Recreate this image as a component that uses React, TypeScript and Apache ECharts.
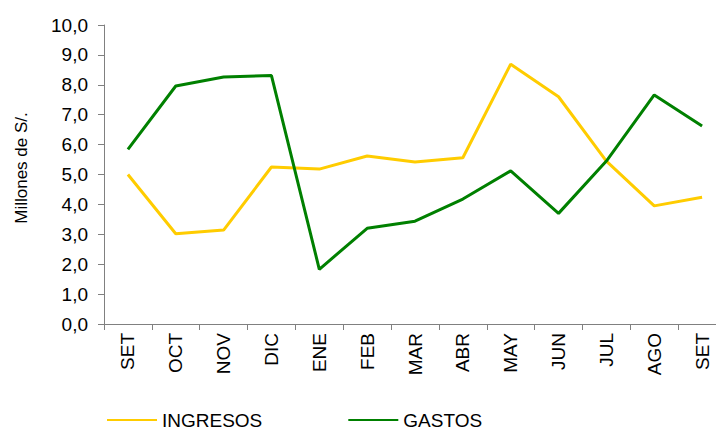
import React, { useEffect, useRef } from "react";
import * as echarts from "echarts";

const categories = ["SET", "OCT", "NOV", "DIC", "ENE", "FEB", "MAR", "ABR", "MAY", "JUN", "JUL", "AGO", "SET"];
const ingresos = [5.0, 3.02, 3.14, 5.25, 5.18, 5.62, 5.42, 5.56, 8.69, 7.6, 5.45, 3.95, 4.24];
const gastos = [5.84, 7.96, 8.26, 8.31, 1.83, 3.2, 3.44, 4.18, 5.12, 3.7, 5.45, 7.66, 6.62];
const yTicks = [0, 10, 1];
const yTitle = "Millones de S/.";
const FONT = "'Liberation Sans', Arial, sans-serif";

export default function App() {
  const ref = useRef<HTMLDivElement>(null);
  useEffect(() => {
    if (!ref.current) return;
    const chart = echarts.init(ref.current, null, { renderer: "svg" });
    chart.setOption({
      animation: false,
      backgroundColor: "#ffffff",
      textStyle: { fontFamily: FONT },
      grid: { left: 104, right: 14, top: 25, bottom: 107, containLabel: false },
      graphic: [
        {
          type: "text",
          x: 21,
          y: 168,
          rotation: Math.PI / 2,
          style: {
            text: yTitle,
            fill: "#000",
            font: `17px ${FONT}`,
            align: "center",
            verticalAlign: "middle",
          },
        },
      ],
      legend: {
        left: 102,
        top: 405,
        itemWidth: 50,
        itemHeight: 14,
        itemGap: 86,
        icon: "path://M0,6 L50,6 L50,8 L0,8 Z",
        textStyle: { fontFamily: FONT, fontSize: 19, color: "#000", lineHeight: 20 },
        data: [
          { name: "INGRESOS", itemStyle: { color: "#FFCC00" } },
          { name: "GASTOS", itemStyle: { color: "#008000" } },
        ],
      },
      xAxis: {
        type: "category",
        data: categories,
        boundaryGap: true,
        axisLine: { lineStyle: { color: "#808080", width: 1 } },
        axisTick: { show: true, length: 6, alignWithLabel: false, lineStyle: { color: "#808080" } },
        axisLabel: {
          rotate: 90,
          interval: 0,
          margin: 9,
          color: "#000",
          fontFamily: FONT,
          fontSize: 19,
        },
        splitLine: { show: false },
      },
      yAxis: {
        type: "value",
        min: yTicks[0],
        max: yTicks[1],
        interval: yTicks[2],
        axisLine: { show: true, lineStyle: { color: "#808080", width: 1 } },
        axisTick: { show: true, length: 6, lineStyle: { color: "#808080" } },
        axisLabel: {
          margin: 16,
          color: "#000",
          fontFamily: FONT,
          fontSize: 19,
          formatter: (v: number) => v.toFixed(1).replace(".", ","),
        },
        splitLine: { show: false },
      },
      series: [
        {
          name: "INGRESOS",
          type: "line",
          data: ingresos,
          symbol: "none",
          lineStyle: { color: "#FFCC00", width: 3 },
          itemStyle: { color: "#FFCC00" },
        },
        {
          name: "GASTOS",
          type: "line",
          data: gastos,
          symbol: "none",
          lineStyle: { color: "#008000", width: 3 },
          itemStyle: { color: "#008000" },
        },
      ],
    });
    return () => chart.dispose();
  }, []);
  return (
    <div style={{ position: "fixed", left: 0, top: 0, width: 716, height: 431, overflow: "hidden", background: "#fff" }}>
      <div ref={ref} style={{ width: 740, height: 431 }} />
    </div>
  );
}
